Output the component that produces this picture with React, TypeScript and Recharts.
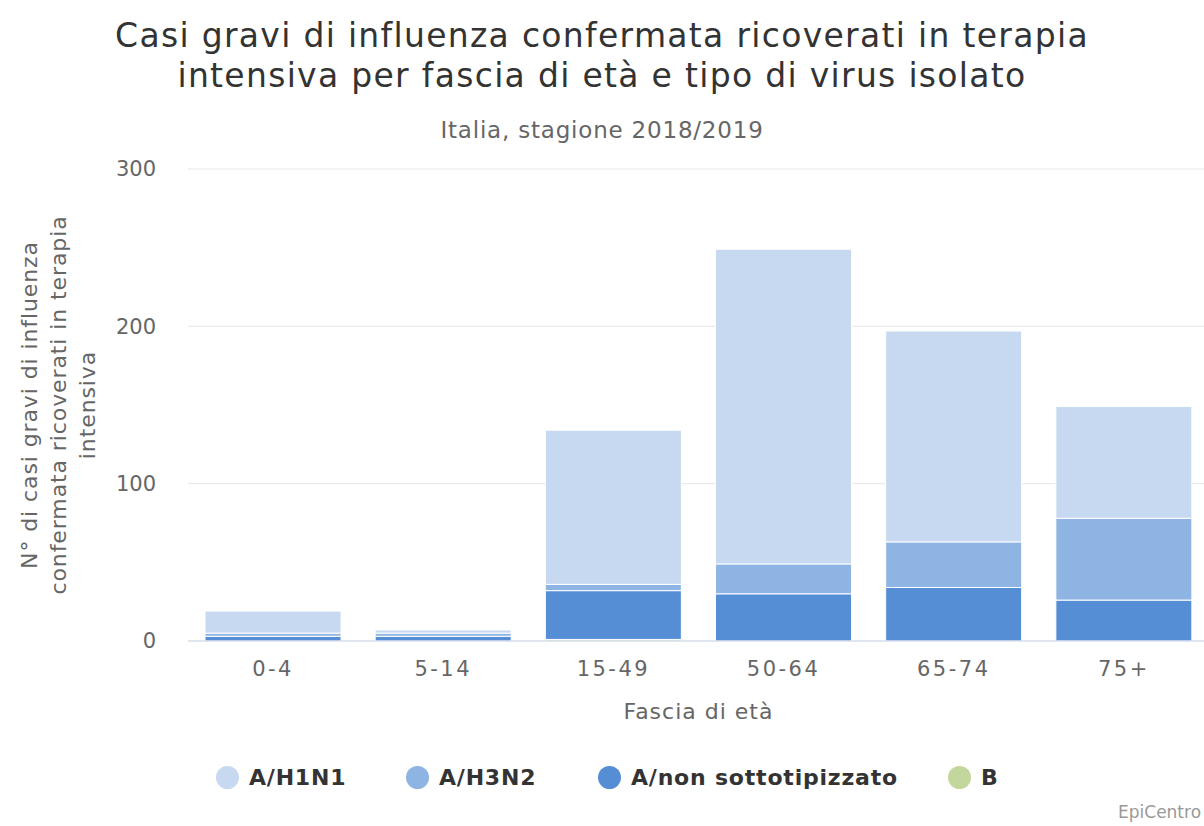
import { Bar, BarChart, CartesianGrid, Label, XAxis, YAxis } from "recharts";

const AGE_GROUPS = ["0-4", "5-14", "15-49", "50-64", "65-74", "75+"];
const H1N1 = [14, 2, 98, 200, 134, 71];
const H3N2 = [2, 2, 4, 19, 29, 52];
const NON_SUBTYPED = [3, 3, 31, 30, 34, 26];
const B_VIRUS = [0, 0, 1, 0, 0, 0];
const Y_TICKS = [0, 100, 200, 300];

const TITLE_LINES = [
  "Casi gravi di influenza confermata ricoverati in terapia",
  "intensiva per fascia di età e tipo di virus isolato",
];
const SUBTITLE = "Italia, stagione 2018/2019";
const Y_TITLE_LINES = [
  "N° di casi gravi di influenza",
  "confermata ricoverati in terapia",
  "intensiva",
];
const X_TITLE = "Fascia di età";

// legend order (top of stack first), as in the original
const SERIES = [
  { key: "h1n1", name: "A/H1N1", color: "#c6d9f0" },
  { key: "h3n2", name: "A/H3N2", color: "#8eb4e3" },
  { key: "non", name: "A/non sottotipizzato", color: "#558ed5" },
  { key: "b", name: "B", color: "#c3d69b" },
];

const data = AGE_GROUPS.map((age, i) => ({
  age,
  h1n1: H1N1[i],
  h3n2: H3N2[i],
  non: NON_SUBTYPED[i],
  b: B_VIRUS[i],
}));

const FONT = "'DejaVu Sans', sans-serif";

function YTitle() {
  return (
    <text
      transform="translate(58 405) rotate(-90)"
      textAnchor="middle"
      fontSize={22}
      letterSpacing={0.9}
      fill="#666"
      fontFamily={FONT}
    >
      {Y_TITLE_LINES.map((line, i) => (
        <tspan key={line} x={0} y={(i - 1) * 29 + 8}>
          {line}
        </tspan>
      ))}
    </text>
  );
}

export default function App() {
  // stack bottom-up: last legend entry sits at the bottom
  const stackOrder = [...SERIES].reverse();
  return (
    <div
      style={{
        position: "fixed",
        left: 0,
        top: 0,
        width: 1204,
        height: 826,
        overflow: "hidden",
        background: "#fff",
        fontFamily: FONT,
      }}
    >
      <div style={{ position: "absolute", left: 0, top: 0, width: 1204, textAlign: "center" }}>
        <div
          style={{
            position: "absolute",
            top: 16,
            width: 1204,
            fontSize: 33,
            letterSpacing: 1.3,
            lineHeight: "40px",
            color: "#333",
          }}
        >
          {TITLE_LINES.map((l) => (
            <div key={l}>{l}</div>
          ))}
        </div>
        <div
          style={{ position: "absolute", top: 117, width: 1204, fontSize: 23, letterSpacing: 0.8, color: "#666" }}
        >
          {SUBTITLE}
        </div>
      </div>

      <div style={{ position: "absolute", left: 0, top: 0 }}>
        <BarChart
          width={1215}
          height={826}
          data={data}
          margin={{ top: 169, right: 6, bottom: 105, left: 0 }}
          barCategoryGap="10%"
        >
          <CartesianGrid vertical={false} stroke="#e6e6e6" />
          <XAxis
            dataKey="age"
            height={80}
            tickLine={false}
            axisLine={{ stroke: "#ccd6eb" }}
            tickMargin={14}
            tick={{ fontSize: 21, fill: "#666", fontFamily: FONT, letterSpacing: 2.5 }}
          >
            <Label
              value={X_TITLE}
              position="insideBottom"
              offset={2}
              style={{ fontSize: 22, fill: "#666", fontFamily: FONT, letterSpacing: 1 }}
            />
          </XAxis>
          <YAxis
            width={188}
            domain={[0, 300]}
            ticks={Y_TICKS}
            tickLine={false}
            axisLine={false}
            tickMargin={26}
            tick={{ fontSize: 21, fill: "#666", fontFamily: FONT }}
          >
            <Label content={() => <YTitle />} />
          </YAxis>
          {stackOrder.map((s) => (
            <Bar
              key={s.key}
              dataKey={s.key}
              name={s.name}
              stackId="casi"
              fill={s.color}
              stroke="#fff"
              strokeWidth={1}
              isAnimationActive={false}
            />
          ))}
        </BarChart>
      </div>

      <div style={{ position: "absolute", left: 0, top: 762, height: 30 }}>
        {SERIES.map((s, i) => (
          <div
            key={s.key}
            style={{
              position: "absolute",
              left: [216, 406, 598, 948][i],
              top: 0,
              height: 30,
              display: "flex",
              alignItems: "center",
              whiteSpace: "nowrap",
            }}
          >
            <span
              style={{
                display: "inline-block",
                width: 23,
                height: 23,
                borderRadius: "50%",
                background: s.color,
                marginRight: 10,
              }}
            />
            <span style={{ fontSize: 22, letterSpacing: 0.8, fontWeight: "bold", color: "#333" }}>{s.name}</span>
          </div>
        ))}
      </div>

      <div style={{ position: "absolute", left: 1118, top: 802, fontSize: 17, color: "#999" }}>EpiCentro</div>
    </div>
  );
}
